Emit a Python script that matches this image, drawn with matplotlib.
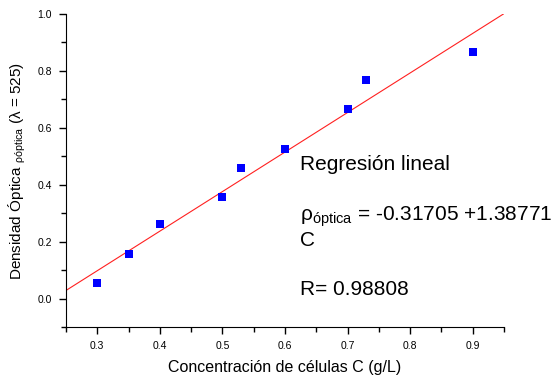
import matplotlib.pyplot as plt
import numpy as np

plt.rcParams['font.family'] = ['Liberation Sans', 'DejaVu Sans']
plt.rcParams['mathtext.default'] = 'regular'

concentracion = [0.30, 0.35, 0.40, 0.50, 0.53, 0.60, 0.70, 0.73, 0.90]
densidad = [0.055, 0.158, 0.262, 0.358, 0.460, 0.525, 0.667, 0.767, 0.866]

# Regresion lineal
intercepto = -0.31705
pendiente = 1.38771
r_valor = 0.98808

fig = plt.figure(figsize=(5.56, 3.75), dpi=100)
ax = fig.add_axes([0.1187, 0.1267, 0.7878, 0.836])

x_fit = np.array([0.25, 0.95])
ax.plot(x_fit, intercepto + pendiente * x_fit, color='#ff2020', lw=0.8)
ax.plot(concentracion, densidad, 's', color='#0000ff', markersize=5.5, markeredgewidth=0)

ax.set_xlim(0.25, 0.95)
ax.set_ylim(-0.1, 1.0)
ax.set_xticks(np.arange(0.3, 0.95, 0.1))
ax.set_xticks(np.arange(0.25, 0.96, 0.1), minor=True)
ax.set_yticks(np.arange(0.0, 1.01, 0.2))
ax.set_yticks(np.arange(-0.1, 1.0, 0.2), minor=True)
ax.xaxis.set_major_formatter(plt.FormatStrFormatter('%.1f'))
ax.yaxis.set_major_formatter(plt.FormatStrFormatter('%.1f'))

ax.spines['top'].set_visible(False)
ax.spines['right'].set_visible(False)
ax.tick_params(which='major', direction='out', length=5, width=1, labelsize=7.5, pad=5)
ax.tick_params(which='minor', direction='out', length=3.5, width=1)

ax.set_xlabel('Concentración de células C (g/L)', fontsize=11.5, labelpad=6)
ax.set_ylabel('Densidad Óptica $_{ρóptica}$ (λ = 525)', fontsize=11, labelpad=7)

fig.text(0.54, 0.56, 'Regresión lineal', fontsize=15, va='center', ha='left')
fig.text(0.54, 0.422, '$ρ_{óptica}$ = %.5f +%.5f' % (intercepto, pendiente),
         fontsize=15, va='center', ha='left')
fig.text(0.54, 0.36, 'C', fontsize=15, va='center', ha='left')
fig.text(0.54, 0.227, 'R= %.5f' % r_valor, fontsize=15, va='center', ha='left')

fig.savefig('out.png', dpi=100)
